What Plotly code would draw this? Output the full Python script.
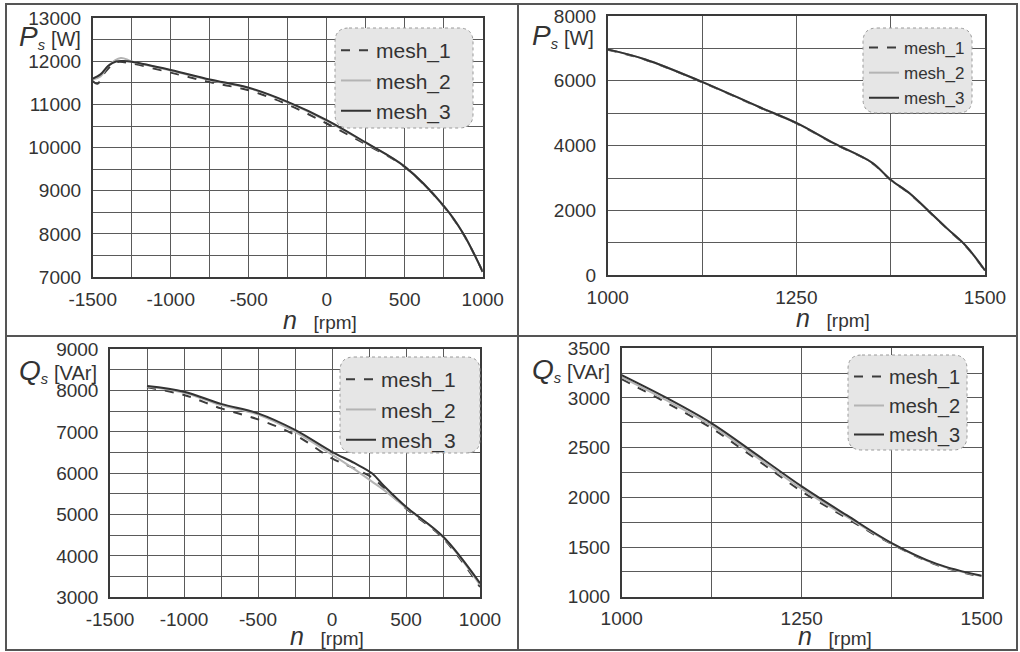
import plotly.graph_objects as go

W, H = 1020, 652

# ---------------- data ----------------
# Top-left: P_s [W] vs n [rpm], -1500..1000
tl_x1 = [-1500, -1470, -1420, -1350, -1250, -1000, -750, -500, -250, 0, 250, 500, 750, 875, 1000]
tl_m1 = [11550, 11480, 11750, 11980, 11950, 11740, 11520, 11330, 11000, 10560, 10080, 9550, 8640, 8000, 7120]
tl_x2 = [-1500, -1450, -1400, -1320, -1250, -1000, -750, -500, -250, 0, 250, 500, 750, 875, 1000]
tl_m2 = [11580, 11650, 11900, 12080, 12000, 11790, 11570, 11380, 11050, 10620, 10110, 9560, 8650, 8010, 7120]
tl_x3 = [-1500, -1450, -1400, -1350, -1300, -1250, -1000, -750, -500, -250, 0, 250, 500, 750, 875, 1000]
tl_m3 = [11600, 11700, 11900, 12000, 12010, 11990, 11800, 11580, 11390, 11060, 10640, 10120, 9560, 8650, 8010, 7120]

# Top-right: P_s [W] vs n [rpm], 1000..1500
tr_x = [1000, 1050, 1125, 1200, 1250, 1300, 1350, 1375, 1400, 1425, 1450, 1475, 1500]
tr_m1 = [6960, 6650, 5960, 5190, 4690, 4060, 3470, 2940, 2520, 1980, 1430, 890, 140]
tr_m2 = [6970, 6660, 5970, 5200, 4700, 4070, 3480, 2950, 2530, 1990, 1440, 900, 150]
tr_m3 = [6970, 6660, 5970, 5200, 4700, 4070, 3480, 2950, 2530, 1990, 1440, 900, 150]

# Bottom-left: Q_s [VAr] vs n [rpm], -1250..1000
bl_x = [-1250, -1000, -750, -500, -250, 0, 150, 270, 350, 500, 750, 1000]
bl_m1 = [8080, 7895, 7570, 7305, 6930, 6360, 6120, 5900, 5650, 5150, 4430, 3250]
bl_m2 = [8100, 7950, 7650, 7420, 7000, 6450, 6100, 5800, 5600, 5170, 4460, 3300]
bl_m3 = [8110, 7975, 7680, 7450, 7050, 6520, 6250, 6000, 5700, 5190, 4470, 3340]

# Bottom-right: Q_s [VAr] vs n [rpm], 1000..1500
br_x = [1000, 1062.5, 1125, 1187.5, 1250, 1312.5, 1375, 1437.5, 1500]
br_m1 = [3190, 2950, 2695, 2380, 2060, 1790, 1530, 1320, 1200]
br_m2 = [3210, 2975, 2720, 2405, 2085, 1805, 1535, 1325, 1205]
br_m3 = [3230, 3000, 2745, 2430, 2110, 1820, 1540, 1330, 1210]

series_names = ["mesh_1", "mesh_2", "mesh_3"]

# tick labels
xt_left = [-1500, -1000, -500, 0, 500, 1000]
xt_left_txt = ["-1500", "-1000", "-500", "0", "500", "1000"]
xt_right = [1000, 1250, 1500]
xt_right_txt = ["1000", "1250", "1500"]
yt_tl = [7000, 8000, 9000, 10000, 11000, 12000, 13000]
yt_tr = [0, 2000, 4000, 6000, 8000]
yt_bl = [3000, 4000, 5000, 6000, 7000, 8000, 9000]
yt_br = [1000, 1500, 2000, 2500, 3000, 3500]

# ---------------- styling helpers ----------------
FONT = "Liberation Sans, Arial, sans-serif"
GRID = "#5a5a5a"
C1, C2, C3 = "#3c3c3c", "#b4b4b4", "#333333"
TICK_FS = 19

def px_x(p):
    return p / W

def px_y(p):
    return (H - p) / H

panels = [
    dict(ax="", dom_x=(92.7, 482.7), dom_y=(18.3, 277.0),
         xr=[-1500, 1000], xt=(xt_left, xt_left_txt), xmd=250,
         yr=[7000, 13000], yt=yt_tl, ymd=500,
         data=[(tl_x1, tl_m1), (tl_x2, tl_m2), (tl_x3, tl_m3)],
         leg=(335, 28, 473, 128), lfs=21,
         ytitle=("P", "[W]"), yt_pos=(17, 37), xt_pos=(320, 320)),
    dict(ax="2", dom_x=(607.7, 985.0), dom_y=(16.0, 275.3),
         xr=[1000, 1500], xt=(xt_right, xt_right_txt), xmd=125,
         yr=[0, 8000], yt=yt_tr, ymd=1000,
         data=[(tr_x, tr_m1), (tr_x, tr_m2), (tr_x, tr_m3)],
         leg=(863, 28, 972, 113), lfs=17,
         ytitle=("P", "[W]"), yt_pos=(530, 36), xt_pos=(833, 318)),
    dict(ax="3", dom_x=(110.0, 480.0), dom_y=(349.3, 597.3),
         xr=[-1500, 1000], xt=(xt_left, xt_left_txt), xmd=250,
         yr=[3000, 9000], yt=yt_bl, ymd=500,
         data=[(bl_x, bl_m1), (bl_x, bl_m2), (bl_x, bl_m3)],
         leg=(340, 357, 480, 453), lfs=21,
         ytitle=("Q", "[VAr]"), yt_pos=(17, 371), xt_pos=(327, 636)),
    dict(ax="4", dom_x=(621.7, 981.7), dom_y=(348.3, 596.7),
         xr=[1000, 1500], xt=(xt_right, xt_right_txt), xmd=125,
         yr=[1000, 3500], yt=yt_br, ymd=250,
         data=[(br_x, br_m1), (br_x, br_m2), (br_x, br_m3)],
         leg=(848, 355, 967, 450), lfs=20,
         ytitle=("Q", "[VAr]"), yt_pos=(530, 370), xt_pos=(835, 636)),
]

fig = go.Figure()
layout = dict(
    width=W, height=H, margin=dict(l=0, r=0, t=0, b=0, pad=0, autoexpand=False),
    paper_bgcolor="white", plot_bgcolor="white",
    font=dict(family=FONT, color="#333333", size=18),
    shapes=[], annotations=[],
)

def rounded_rect(x0, y0, x1, y1, r):
    rx, ry = r / W, r / H
    X0, X1 = px_x(x0), px_x(x1)
    Y0, Y1 = px_y(y0), px_y(y1)
    return (f"M {X0+rx},{Y0} L {X1-rx},{Y0} Q {X1},{Y0} {X1},{Y0-ry} "
            f"L {X1},{Y1+ry} Q {X1},{Y1} {X1-rx},{Y1} "
            f"L {X0+rx},{Y1} Q {X0},{Y1} {X0},{Y1+ry} "
            f"L {X0},{Y0-ry} Q {X0},{Y0} {X0+rx},{Y0} Z")

for i, p in enumerate(panels):
    ax = p["ax"]
    legname = "legend" if i == 0 else f"legend{i+1}"
    styles = [dict(color=C1, width=2, dash="dash"),
              dict(color=C2, width=2),
              dict(color=C3, width=2)]
    for (xs, ys), nm, st in zip(p["data"], series_names, styles):
        fig.add_trace(go.Scatter(x=xs, y=ys, mode="lines", name=nm, line=st,
                                 xaxis="x" + ax, yaxis="y" + ax,
                                 legend=legname, line_shape="spline"))
    xa = dict(domain=[px_x(p["dom_x"][0]), px_x(p["dom_x"][1])],
              range=p["xr"], tickmode="array",
              tickvals=p["xt"][0], ticktext=p["xt"][1],
              showgrid=True, gridcolor=GRID, gridwidth=1,
              minor=dict(tickmode="linear", tick0=p["xr"][0], dtick=p["xmd"],
                         showgrid=True, gridcolor=GRID, gridwidth=1),
              showline=True, linecolor="#3a3a3a", linewidth=1.5, mirror=True,
              zeroline=False, ticks="", ticklabelstandoff=4,
              tickfont=dict(size=TICK_FS, color="#333333", family=FONT),
              anchor="y" + ax, fixedrange=True, automargin=False)
    ya = dict(domain=[px_y(p["dom_y"][1]), px_y(p["dom_y"][0])],
              range=p["yr"], tickmode="array",
              tickvals=p["yt"], ticktext=[str(v) for v in p["yt"]],
              showgrid=True, gridcolor=GRID, gridwidth=1,
              minor=dict(tickmode="linear", tick0=p["yr"][0], dtick=p["ymd"],
                         showgrid=True, gridcolor=GRID, gridwidth=1),
              showline=True, linecolor="#3a3a3a", linewidth=1.5, mirror=True,
              zeroline=False, ticks="", ticklabelstandoff=6,
              tickfont=dict(size=TICK_FS, color="#333333", family=FONT),
              anchor="x" + ax, fixedrange=True, automargin=False)
    layout["xaxis" + ax] = xa
    layout["yaxis" + ax] = ya

    lx0, ly0, lx1, ly1 = p["leg"]
    layout["shapes"].append(dict(type="path", xref="paper", yref="paper",
                                 path=rounded_rect(lx0, ly0, lx1, ly1, 14),
                                 fillcolor="#e6e6e6",
                                 line=dict(color="#9a9a9a", width=1, dash="dot"),
                                 layer="above"))
    layout[legname] = dict(x=px_x(lx0 + 1), y=px_y(ly0 + 2), xanchor="left", yanchor="top",
                           bgcolor="rgba(0,0,0,0)", borderwidth=0,
                           font=dict(size=p["lfs"], family=FONT, color="#333333"),
                           itemwidth=30, tracegroupgap=0)

    sym, unit = p["ytitle"]
    layout["annotations"].append(dict(
        xref="paper", yref="paper", x=px_x(p["yt_pos"][0]), y=px_y(p["yt_pos"][1]),
        xanchor="left", yanchor="middle", showarrow=False,
        text=(f"<span style='font-size:28px'><i>{sym}</i></span>"
              f"<sub><i>s</i></sub> <span style='font-size:20px'>{unit}</span>"),
        font=dict(size=21, family=FONT, color="#333333")))
    layout["annotations"].append(dict(
        xref="paper", yref="paper", x=px_x(p["xt_pos"][0]), y=px_y(p["xt_pos"][1]),
        xanchor="center", yanchor="middle", showarrow=False,
        text="<span style='font-size:25px'><i>n</i></span>   <span style='font-size:19px'>[rpm]</span>",
        font=dict(size=20, family=FONT, color="#333333")))

frame = dict(color="#555555", width=2)
layout["shapes"] += [
    dict(type="rect", xref="paper", yref="paper", x0=px_x(6), x1=px_x(1017),
         y0=px_y(650), y1=px_y(4), line=frame, layer="below"),
    dict(type="line", xref="paper", yref="paper", x0=px_x(518), x1=px_x(518),
         y0=px_y(650), y1=px_y(4), line=frame),
    dict(type="line", xref="paper", yref="paper", x0=px_x(6), x1=px_x(1017),
         y0=px_y(336), y1=px_y(336), line=frame),
]

fig.update_layout(**layout)
fig.write_html("out.html", config={"displayModeBar": False},
               post_script="document.body.style.margin='0';document.body.style.overflow='hidden';")
